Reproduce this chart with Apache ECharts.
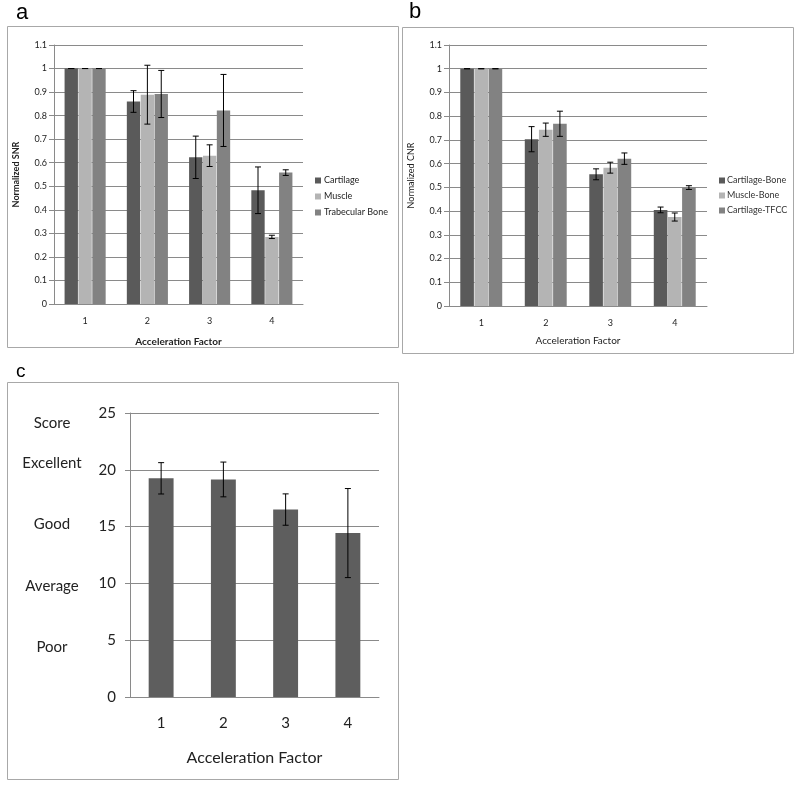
<!DOCTYPE html>
<html>
<head>
<meta charset="utf-8">
<script src="https://cdn.jsdelivr.net/npm/echarts@6/dist/echarts.min.js"></script>
<style>
  html, body { margin: 0; padding: 0; background: #fff; }
  #chart { width: 800px; height: 787px; }
</style>
</head>
<body>
<div id="chart"></div>
<script>
// categories (acceleration factor)
const factors = ['1', '2', '3', '4'];

// panel a: normalized SNR
const snrNames = ['Cartilage', 'Muscle', 'Trabecular Bone'];
const snrCartilage = [1, 0.86, 0.623, 0.483];
const snrMuscle = [1, 0.889, 0.63, 0.285];
const snrTrabecular = [1, 0.892, 0.822, 0.558];
const snrCartilageSd = [0, 0.046, 0.09, 0.099];
const snrMuscleSd = [0, 0.125, 0.046, 0.007];
const snrTrabecularSd = [0, 0.1, 0.153, 0.012];

// panel b: normalized CNR
const cnrNames = ['Cartilage-Bone', 'Muscle-Bone', 'Cartilage-TFCC'];
const cnrCartBone = [1, 0.703, 0.555, 0.405];
const cnrMuscleBone = [1, 0.743, 0.583, 0.375];
const cnrCartTfcc = [1, 0.768, 0.621, 0.499];
const cnrCartBoneSd = [0, 0.053, 0.023, 0.012];
const cnrMuscleBoneSd = [0, 0.028, 0.023, 0.017];
const cnrCartTfccSd = [0, 0.053, 0.024, 0.008];

// panel c: image quality score
const scoreValues = [19.25, 19.15, 16.5, 14.43];
const scoreSd = [1.38, 1.53, 1.38, 3.92];
const scoreWords = ['Score', 'Excellent', 'Good', 'Average', 'Poor'];

const seriesColors = ['#5a5a5a', '#b4b4b4', '#828282'];
const axisGray = '#8a8a8a';
const font = 'Lato, "Noto Sans", sans-serif';

const chart = echarts.init(document.getElementById('chart'), null, { renderer: 'canvas' });

// error bar drawn over a bar inside a group of n bars
function errorBars(gridIdx, vals, sds, idx, n, catGap, barGap) {
  return {
    type: 'custom',
    xAxisIndex: gridIdx,
    yAxisIndex: gridIdx,
    silent: true,
    z: 10,
    data: vals.map((v, i) => [i, v + sds[i], v - sds[i]]),
    renderItem: (params, api) => {
      const band = api.size([1, 0])[0];
      const total = band * (1 - catGap);
      const barW = total / (n + (n - 1) * barGap);
      const dx = -total / 2 + barW / 2 + idx * barW * (1 + barGap);
      const hi = api.coord([api.value(0), api.value(1)]);
      const lo = api.coord([api.value(0), api.value(2)]);
      const x = hi[0] + dx;
      const cap = 3;
      const style = { stroke: '#000', lineWidth: 1 };
      return {
        type: 'group',
        children: [
          { type: 'line', shape: { x1: x, y1: hi[1], x2: x, y2: lo[1] }, style },
          { type: 'line', shape: { x1: x - cap, y1: hi[1], x2: x + cap, y2: hi[1] }, style },
          { type: 'line', shape: { x1: x - cap, y1: lo[1], x2: x + cap, y2: lo[1] }, style }
        ]
      };
    }
  };
}

function catAxis(gridIdx, size, nameGap, name, bold, margin) {
  return {
    type: 'category',
    gridIndex: gridIdx,
    data: factors,
    name: name,
    nameLocation: 'middle',
    nameGap: nameGap,
    nameTextStyle: { fontSize: size + 1, color: '#222', fontFamily: font, fontWeight: bold ? 'bold' : 'normal' },
    axisLine: { lineStyle: { color: axisGray } },
    axisTick: { length: 4, lineStyle: { color: axisGray } },
    axisLabel: { fontSize: size, color: '#222', fontFamily: font, margin: margin }
  };
}

function valAxis(gridIdx, max, interval, size, name, nameGap, bold) {
  return {
    type: 'value',
    gridIndex: gridIdx,
    min: 0,
    max: max,
    interval: interval,
    name: name,
    nameLocation: 'middle',
    nameRotate: 90,
    nameGap: nameGap,
    nameTextStyle: { fontSize: size, color: '#222', fontFamily: font, fontWeight: bold ? 'bold' : 'normal' },
    axisLine: { show: true, lineStyle: { color: axisGray } },
    axisTick: { show: true, length: 5, lineStyle: { color: axisGray } },
    axisLabel: { fontSize: size, color: '#222', fontFamily: font, margin: 7 },
    splitLine: { lineStyle: { color: axisGray } }
  };
}

function barSeries(gridIdx, name, data, color, catGap) {
  return {
    type: 'bar',
    name: name,
    xAxisIndex: gridIdx,
    yAxisIndex: gridIdx,
    data: data,
    itemStyle: { color: color },
    barGap: '4%',
    barCategoryGap: catGap * 100 + '%'
  };
}

const gapA = 0.34, gapB = 0.35, gapC = 0.6;

const option = {
  animation: false,
  backgroundColor: '#fff',
  grid: [
    { left: 54, top: 45, width: 249, height: 259 },
    { left: 449, top: 45, width: 258, height: 261 },
    { left: 130, top: 413, width: 249, height: 284 }
  ],
  xAxis: [
    catAxis(0, 9, 33, 'Acceleration Factor', true, 13),
    catAxis(1, 9, 30, 'Acceleration Factor', false, 13),
    Object.assign(catAxis(2, 15, 53, 'Acceleration Factor', false, 19), {
      axisTick: { length: 6, lineStyle: { color: axisGray } }
    })
  ],
  yAxis: [
    valAxis(0, 1.1, 0.1, 9, 'Normalized SNR', 33, true),
    valAxis(1, 1.1, 0.1, 9, 'Normalized CNR', 33, false),
    Object.assign(valAxis(2, 25, 5, 15, '', 0, false), {
      axisLabel: { fontSize: 15, color: '#222', fontFamily: font, margin: 14 }
    })
  ],
  legend: [
    {
      data: snrNames,
      orient: 'vertical',
      left: 310,
      top: 171,
      itemWidth: 6,
      itemHeight: 6,
      itemGap: 7,
      icon: 'rect',
      textStyle: { fontSize: 9, color: '#222', fontFamily: font, padding: [0, 0, 0, -2] }
    },
    {
      data: cnrNames,
      orient: 'vertical',
      left: 714,
      top: 171,
      itemWidth: 6,
      itemHeight: 6,
      itemGap: 6,
      icon: 'rect',
      textStyle: { fontSize: 9, color: '#333', fontFamily: font, padding: [0, 0, 0, -3] }
    }
  ],
  series: [
    barSeries(0, snrNames[0], snrCartilage, seriesColors[0], gapA),
    barSeries(0, snrNames[1], snrMuscle, seriesColors[1], gapA),
    barSeries(0, snrNames[2], snrTrabecular, seriesColors[2], gapA),
    errorBars(0, snrCartilage, snrCartilageSd, 0, 3, gapA, 0.04),
    errorBars(0, snrMuscle, snrMuscleSd, 1, 3, gapA, 0.04),
    errorBars(0, snrTrabecular, snrTrabecularSd, 2, 3, gapA, 0.04),
    barSeries(1, cnrNames[0], cnrCartBone, seriesColors[0], gapB),
    barSeries(1, cnrNames[1], cnrMuscleBone, seriesColors[1], gapB),
    barSeries(1, cnrNames[2], cnrCartTfcc, seriesColors[2], gapB),
    errorBars(1, cnrCartBone, cnrCartBoneSd, 0, 3, gapB, 0.04),
    errorBars(1, cnrMuscleBone, cnrMuscleBoneSd, 1, 3, gapB, 0.04),
    errorBars(1, cnrCartTfcc, cnrCartTfccSd, 2, 3, gapB, 0.04),
    {
      type: 'bar',
      name: 'Score',
      xAxisIndex: 2,
      yAxisIndex: 2,
      data: scoreValues,
      itemStyle: { color: '#5e5e5e' },
      barCategoryGap: gapC * 100 + '%'
    },
    errorBars(2, scoreValues, scoreSd, 0, 1, gapC, 0)
  ],
  graphic: [
    // panel frames
    { type: 'rect', shape: { x: 7.5, y: 26.5, width: 391, height: 321 }, style: { fill: null, stroke: '#a8a8a8', lineWidth: 1 }, z: -1 },
    { type: 'rect', shape: { x: 402.5, y: 27.5, width: 391, height: 326 }, style: { fill: null, stroke: '#a8a8a8', lineWidth: 1 }, z: -1 },
    { type: 'rect', shape: { x: 7.5, y: 382.5, width: 391, height: 397 }, style: { fill: null, stroke: '#a8a8a8', lineWidth: 1 }, z: -1 },
    // panel letters
    { type: 'text', left: 16, top: 2, style: { text: 'a', fontSize: 22, fontFamily: 'Liberation Sans, Arial, sans-serif', fill: '#000' } },
    { type: 'text', left: 409, top: 1, style: { text: 'b', fontSize: 22, fontFamily: 'Liberation Sans, Arial, sans-serif', fill: '#000' } },
    { type: 'text', left: 16, top: 362, style: { text: 'c', fontSize: 19, fontFamily: 'Liberation Sans, Arial, sans-serif', fill: '#000' } }
  ].concat(scoreWords.map((w, i) => ({
    type: 'text',
    x: 52,
    y: [423, 463, 524, 586, 647][i],
    style: { text: w, fontSize: 15, fontFamily: font, fill: '#222', align: 'center', verticalAlign: 'middle' }
  })))
};

chart.setOption(option);
</script>
</body>
</html>
